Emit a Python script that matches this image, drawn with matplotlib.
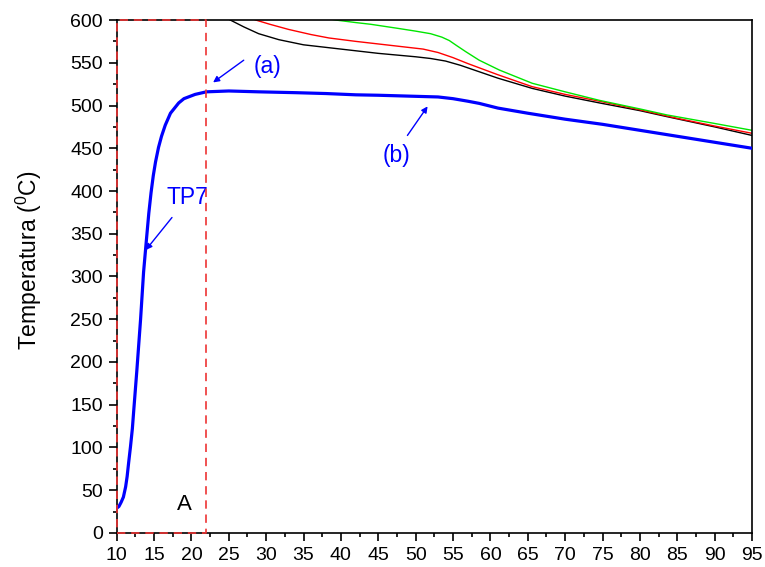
import matplotlib
matplotlib.use("Agg")
import matplotlib.pyplot as plt
from matplotlib.ticker import MultipleLocator

plt.rcParams['font.family'] = ['Liberation Sans', 'DejaVu Sans']
plt.rcParams['mathtext.default'] = 'regular'

# Thermocouple TP7 (heavy blue trace)
tp7_time = [10.0, 10.3, 10.6, 10.9, 11.2, 11.4, 11.6, 11.85, 12.1, 12.3, 12.7,
            13.2, 13.6, 13.9, 14.3, 14.6, 14.9, 15.2, 15.6, 16.0, 16.5, 17.2,
            18.3, 19.0, 20.5, 22.0, 25.0, 29.0, 34.0, 38.0, 42.0, 45.0, 49.0,
            53.0, 55.0, 57.0, 58.5, 61.0, 65.0, 70.0, 75.0, 80.0, 85.0, 90.0,
            95.0]
tp7_temp = [29, 31, 36, 42, 54, 66, 82, 101, 122, 145, 190,
            250, 305, 335, 374, 398, 418, 434, 451, 464, 477, 491,
            503, 508, 513, 516, 517, 516, 515, 514, 512.5, 512, 511,
            510, 508, 505, 502.5, 497, 491, 484, 478, 471, 464, 457,
            450]

# Upper traces (clipped at the top of the axis)
black_time = [23.5, 25.2, 27.0, 29.0, 31.7, 35.0, 40.0, 45.0, 50.0, 52.0,
              54.0, 56.0, 58.0, 61.0, 65.6, 70.0, 74.6, 80.0, 83.6, 90.0, 95.0]
black_temp = [607, 600, 592, 584, 577, 571, 566, 561, 557, 555,
              552, 547, 541, 532, 520, 511, 503, 494, 487, 475, 465]

red_time = [27.0, 28.6, 30.5, 33.0, 36.0, 38.4, 42.0, 45.0, 48.0, 51.0, 53.0,
            55.0, 57.0, 61.0, 65.6, 70.0, 74.6, 80.0, 85.0, 90.0, 95.0]
red_temp = [606, 600, 595, 589, 583, 579, 575, 572, 569, 566, 562,
            556, 549, 536, 522, 513, 505, 495, 485, 476, 467.5]

green_time = [37.5, 39.3, 42.0, 44.0, 47.8, 50.0, 52.0, 53.5, 54.5, 55.5,
              56.7, 58.5, 61.2, 65.6, 70.0, 74.6, 80.0, 83.6, 90.0, 95.0]
green_temp = [603, 600, 597, 595, 590, 587, 584, 580, 576, 570,
              563, 553, 541.5, 526, 516, 506, 496, 489, 479, 471]

# Region A bounds
region_x = [10, 22]
region_y = [0, 600]

fig = plt.figure(figsize=(7.65, 5.67), dpi=100)
ax = fig.add_axes([0.1525, 0.06, 0.8305, 0.9047])

ax.plot(black_time, black_temp, color='black', lw=1.0)
ax.plot(red_time, red_temp, color='#ff0000', lw=1.0)
ax.plot(green_time, green_temp, color='#00e600', lw=1.0)
ax.plot(tp7_time, tp7_temp, color='#0000ff', lw=2.3, zorder=4)

# Dashed box marking region A
x0, x1 = region_x
y0, y1 = region_y
ax.plot([x0, x1, x1, x0, x0], [y0, y0, y1, y1, y0], color='#ee3333',
        lw=1.2, ls=(0, (5, 3.5)), clip_on=False, zorder=6)

ax.set_xlim(10, 95)
ax.set_ylim(0, 600)
ax.xaxis.set_major_locator(MultipleLocator(5))
ax.xaxis.set_minor_locator(MultipleLocator(2.5))
ax.yaxis.set_major_locator(MultipleLocator(50))
ax.yaxis.set_minor_locator(MultipleLocator(25))
ax.tick_params(which='major', direction='out', length=6, width=1.2,
               labelsize=14, pad=4)
ax.tick_params(which='minor', direction='out', length=3, width=1.2)
for s in ax.spines.values():
    s.set_linewidth(1.2)

ax.set_ylabel('Temperatura ($^0$C)', fontsize=16.5)
ax.yaxis.set_label_coords(-0.114, 0.532)

blue = '#0000ff'
arrow = dict(arrowstyle='-|>', color=blue, lw=1.0, mutation_scale=9,
             shrinkA=0, shrinkB=0)
ax.annotate('', xy=(22.9, 527), xytext=(27.0, 553), arrowprops=arrow)
ax.text(30.2, 546, '(a)', color=blue, fontsize=16.5, ha='center', va='center')
ax.annotate('', xy=(51.6, 499), xytext=(48.9, 465), arrowprops=arrow)
ax.text(47.4, 441, '(b)', color=blue, fontsize=16.5, ha='center', va='center')
ax.annotate('', xy=(13.9, 331), xytext=(17.4, 369), arrowprops=arrow)
ax.text(19.4, 392, 'TP7', color=blue, fontsize=16.5, ha='center', va='center')
ax.text(19.1, 33, 'A', color='black', fontsize=16, ha='center', va='center')

fig.savefig('out.png', dpi=100)
